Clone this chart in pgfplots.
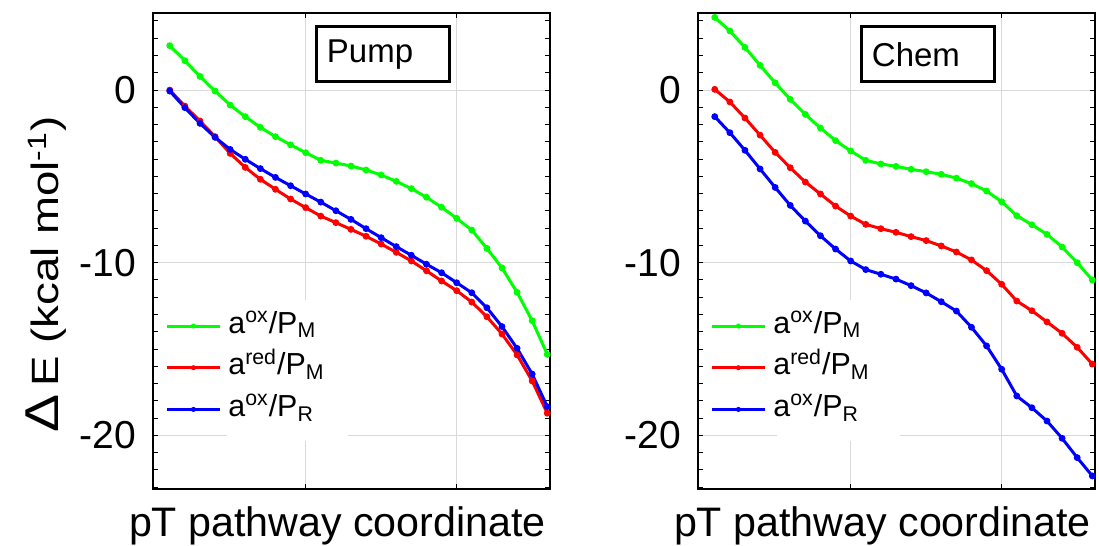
\documentclass[border=0pt]{standalone}
\usepackage{fontspec}
\setmainfont{Liberation Sans}
\usepackage{graphicx}
\usepackage{pgfplots}
\usepackage{pgfplotstable}
\pgfplotsset{compat=1.18}

\definecolor{cgreen}{RGB}{0,255,0}
\definecolor{cred}{RGB}{255,0,0}
\definecolor{cblue}{RGB}{0,0,255}

\pgfplotstableread{
x g r b
1 2.57 0.00 -0.06
2 1.70 -0.93 -1.02
3 0.79 -1.79 -1.93
4 -0.06 -2.70 -2.74
5 -0.87 -3.67 -3.44
6 -1.54 -4.48 -4.01
7 -2.16 -5.17 -4.55
8 -2.70 -5.75 -5.06
9 -3.17 -6.31 -5.54
10 -3.63 -6.81 -6.02
11 -4.07 -7.30 -6.49
12 -4.23 -7.68 -6.99
13 -4.40 -8.07 -7.49
14 -4.63 -8.47 -8.03
15 -4.92 -8.92 -8.55
16 -5.29 -9.40 -9.07
17 -5.71 -9.90 -9.57
18 -6.21 -10.47 -10.09
19 -6.79 -11.06 -10.58
20 -7.43 -11.62 -11.16
21 -8.11 -12.28 -11.74
22 -9.17 -13.13 -12.61
23 -10.30 -14.13 -13.70
24 -11.72 -15.34 -14.96
25 -13.36 -16.85 -16.45
26 -15.31 -18.72 -18.34
}\pumpdata

\pgfplotstableread{
x g r b
1 4.21 0.04 -1.54
2 3.42 -0.69 -2.47
3 2.47 -1.62 -3.49
4 1.43 -2.61 -4.57
5 0.42 -3.61 -5.64
6 -0.54 -4.50 -6.68
7 -1.41 -5.33 -7.59
8 -2.20 -6.02 -8.44
9 -2.93 -6.72 -9.21
10 -3.53 -7.30 -9.90
11 -4.07 -7.78 -10.40
12 -4.28 -8.03 -10.67
13 -4.42 -8.24 -10.95
14 -4.59 -8.49 -11.33
15 -4.73 -8.72 -11.75
16 -4.88 -9.03 -12.26
17 -5.10 -9.38 -12.80
18 -5.42 -9.84 -13.74
19 -5.85 -10.46 -14.82
20 -6.47 -11.25 -16.17
21 -7.28 -12.22 -17.72
22 -7.80 -12.78 -18.40
23 -8.36 -13.43 -19.17
24 -9.09 -14.09 -20.17
25 -10.00 -14.90 -21.29
26 -11.00 -15.87 -22.35
}\chemdata

\pgfplotsset{
  panel/.style={
    scale only axis, width=198.65pt, height=238pt,
    anchor=south west,
    xmin=-0.13, xmax=26.18, ymin=-23.09, ymax=4.48,
    xtick={10,20}, xticklabels={},
    ytick={-20,-10,0}, yticklabels={-20,-10,0},
    minor ytick={-23,-22,...,4},
    grid=major, major grid style={black!15, line width=0.5pt},
    tick align=inside, major tick length=2.5pt, minor tick length=2.5pt,
    tick style={black, line width=0.5pt},
    axis line style={line width=1pt},
    yticklabel style={font=\fontsize{19.5}{22}\selectfont, inner sep=0pt, xshift=-8pt},
    xlabel={pT pathway coordinate},
    xlabel style={font=\fontsize{20.6}{25}\selectfont, at={(axis description cs:0.465,-0.1008)}, anchor=base},
    every axis plot/.append style={line width=1.5pt, mark=*, mark size=1.45pt, mark options={line width=0.5pt}},
    legend style={draw=none, fill=none, inner sep=0pt,
      at={(axis description cs:0.031,0.372)}, anchor=north west,
      font=\fontsize{15.2}{17}\selectfont, row sep=6.85pt,
      nodes={inner sep=0pt, text height=10.5pt, text depth=3.5pt},
      /tikz/every odd column/.append style={column sep=3.5pt}},
    legend cell align=left,
    legend image code/.code={\draw[mark repeat=2, mark phase=2, mark size=1pt] plot coordinates {(0pt,0pt) (13.25pt,0pt) (26.5pt,0pt)};},
  }
}

\begin{document}
\begin{tikzpicture}
\begin{axis}[panel, at={(0pt,0pt)},
  ylabel={\scalebox{1.2}[1]{\scalebox{1.25}{Δ}\,E (kcal mol\textsuperscript{-1})}},
  ylabel style={font=\fontsize{19}{22}\selectfont, at={(axis description cs:-0.268,0.45)}, anchor=center},
]
\fill[white] (axis cs:4.77,-12.16) rectangle (axis cs:12.8,-20.3);
\addplot[cgreen] table[x=x,y=g] {\pumpdata};
\addplot[cred] table[x=x,y=r] {\pumpdata};
\addplot[cblue] table[x=x,y=b] {\pumpdata};
\legend{a\textsuperscript{ox}/P\textsubscript{M}, a\textsuperscript{red}/P\textsubscript{M}, a\textsuperscript{ox}/P\textsubscript{R}}
\node[draw, line width=1.5pt, font=\fontsize{16.5}{20}\selectfont, text width=56.5pt, inner xsep=5pt, minimum height=27.5pt, align=left] at (axis cs:15.15,2.07) {Pump};
\end{axis}
\begin{axis}[panel, at={(272.5pt,0pt)}]
\fill[white] (axis cs:5.1,-12.16) rectangle (axis cs:13.26,-20.3);
\addplot[cgreen] table[x=x,y=g] {\chemdata};
\addplot[cred] table[x=x,y=r] {\chemdata};
\addplot[cblue] table[x=x,y=b] {\chemdata};
\legend{a\textsuperscript{ox}/P\textsubscript{M}, a\textsuperscript{red}/P\textsubscript{M}, a\textsuperscript{ox}/P\textsubscript{R}}
\node[draw, line width=1.5pt, font=\fontsize{16.5}{20}\selectfont, text width=56.5pt, inner xsep=5pt, minimum height=27.5pt, align=left] at (axis cs:15.15,2.07) {Chem};
\end{axis}
\pgfresetboundingbox
\useasboundingbox (-76.35pt,-28.65pt) rectangle (473.15pt,244.35pt);
\end{tikzpicture}
\end{document}
